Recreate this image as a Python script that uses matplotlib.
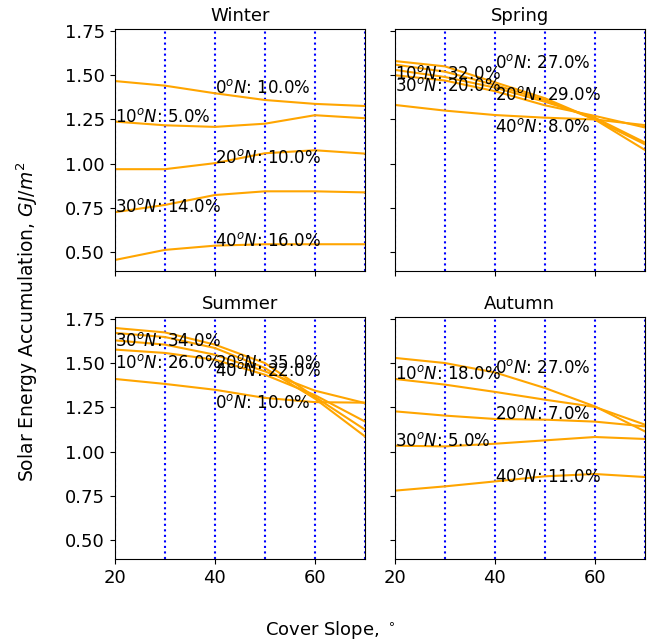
import numpy as np
import matplotlib
matplotlib.use('Agg')
import matplotlib.pyplot as plt

plt.rcParams['font.size'] = 12

slopes = [20, 30, 40, 50, 60, 70]
latitudes = [0, 10, 20, 30, 40]
seasons = ['Winter', 'Spring', 'Summer', 'Autumn']

# energy per latitude (rows: 0N..40N), columns follow slopes
winter = [[1.467, 1.441, 1.398, 1.360, 1.338, 1.326],
          [1.238, 1.217, 1.208, 1.226, 1.274, 1.257],
          [0.969, 0.969, 1.003, 1.059, 1.076, 1.057],
          [0.726, 0.767, 0.823, 0.844, 0.844, 0.838],
          [0.456, 0.513, 0.537, 0.545, 0.545, 0.545]]
spring = [[1.53, 1.49, 1.43, 1.35, 1.26, 1.12],
          [1.58, 1.55, 1.46, 1.37, 1.25, 1.078],
          [1.56, 1.52, 1.445, 1.36, 1.25, 1.11],
          [1.50, 1.47, 1.41, 1.33, 1.27, 1.205],
          [1.332, 1.30, 1.275, 1.26, 1.25, 1.218]]
summer = [[1.411, 1.383, 1.35, 1.304, 1.28, 1.277],
          [1.577, 1.558, 1.52, 1.435, 1.32, 1.171],
          [1.671, 1.648, 1.586, 1.473, 1.30, 1.087],
          [1.699, 1.674, 1.605, 1.501, 1.31, 1.125],
          [1.629, 1.605, 1.548, 1.454, 1.345, 1.275]]
autumn = [[1.530, 1.501, 1.448, 1.360, 1.256, 1.115],
          [1.411, 1.379, 1.338, 1.294, 1.253, 1.153],
          [1.228, 1.204, 1.185, 1.181, 1.170, 1.143],
          [1.034, 1.030, 1.045, 1.064, 1.083, 1.072],
          [0.780, 0.804, 0.832, 0.861, 0.874, 0.857]]

# percentage annotations per latitude
winter_pct = [10, 5, 10, 14, 16]
spring_pct = [27, 32, 29, 20, 8]
summer_pct = [10, 26, 35, 34, 22]
autumn_pct = [27, 18, 7, 5, 11]

# heights where the annotations sit
winter_label_y = [1.398, 1.238, 1.003, 0.726, 0.537]
spring_label_y = [1.54, 1.48, 1.36, 1.41, 1.18]
summer_label_y = [1.247, 1.473, 1.475, 1.595, 1.426]
autumn_label_y = [1.445, 1.411, 1.185, 1.034, 0.829]

data = [winter, spring, summer, autumn]
pcts = [winter_pct, spring_pct, summer_pct, autumn_pct]
label_ys = [winter_label_y, spring_label_y, summer_label_y, autumn_label_y]

fig, axes = plt.subplots(2, 2, figsize=(6.6, 6.44), dpi=100, sharex=True, sharey=True)
fig.subplots_adjust(left=0.174, right=0.977, top=0.955, bottom=0.132, wspace=0.12, hspace=0.19)

for ax, name, vals, pct, ly in zip(axes.flat, seasons, data, pcts, label_ys):
    for s in slopes:
        ax.axvline(s, color='blue', linestyle=':', linewidth=1.5)
    for i, lat in enumerate(latitudes):
        ax.plot(slopes, vals[i], color='orange', linewidth=1.5)
        xl = slopes[2] if i % 2 == 0 else slopes[0]
        ax.text(xl, ly[i], r'$%d^oN$: %.1f%%' % (lat, pct[i]), fontsize=12)
    ax.set_title(name, fontsize=13)
    ax.set_xlim(slopes[0], slopes[-1])
    ax.set_xticks([20, 40, 60])
    ax.set_yticks([0.5, 0.75, 1.0, 1.25, 1.5, 1.75])
    ax.tick_params(labelsize=13)

fig.supxlabel(r'Cover Slope, $^\circ$', fontsize=13, y=0.004)
fig.supylabel(r'Solar Energy Accumulation, $GJ/m^2$', fontsize=13.5, x=0.022)
plt.savefig('out.png')
